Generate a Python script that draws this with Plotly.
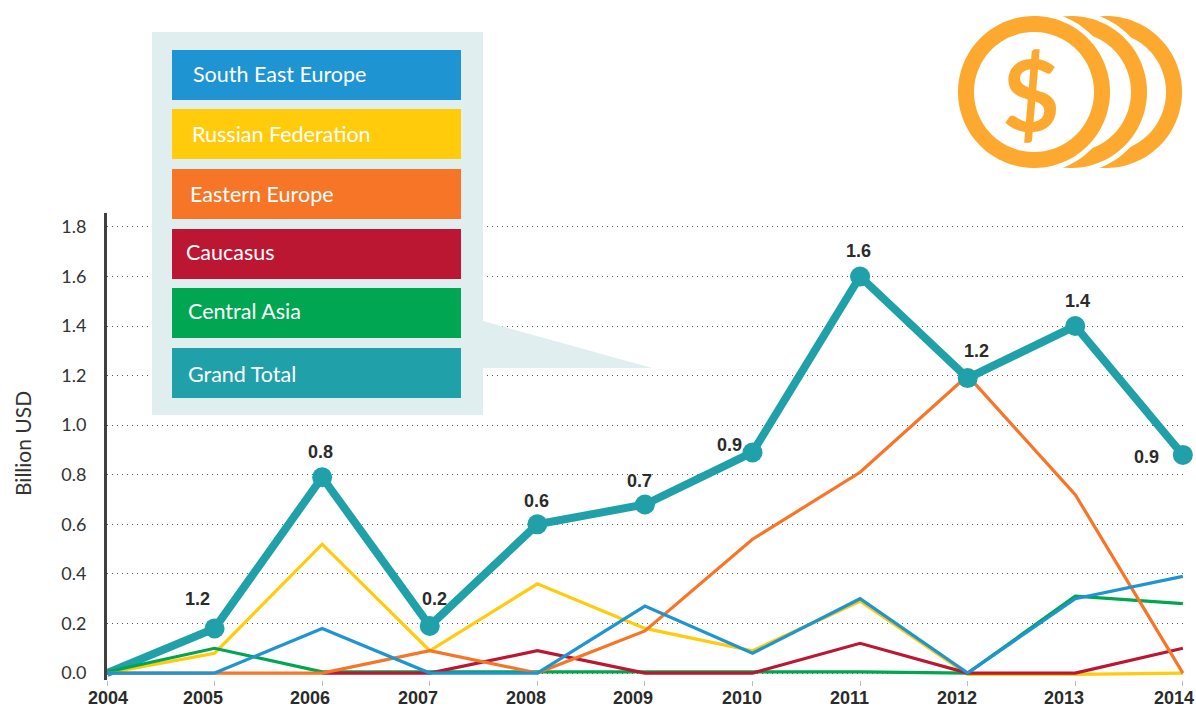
import math
import plotly.graph_objects as go

W, H = 1196, 709
years = list(range(2004, 2015))
year_labels = [str(y) for y in years]
year_label_shift = [1, -12, -12, -12, -11, -12, -11, -11, -11, -11, -9]
grand_total = [0, 0.18, 0.79, 0.19, 0.60, 0.68, 0.89, 1.60, 1.19, 1.40, 0.88]
russian_federation = [0, 0.08, 0.52, 0.09, 0.36, 0.18, 0.09, 0.29, -0.005, -0.005, 0]
south_east_europe = [0, 0, 0.18, 0, 0, 0.27, 0.08, 0.30, 0, 0.30, 0.39]
eastern_europe = [0, 0, 0, 0.09, 0, 0.17, 0.54, 0.81, 1.20, 0.72, 0]
caucasus = [None, None, 0, 0, 0.09, 0, 0, 0.12, 0, 0, 0.10]
central_asia = [0.005, 0.10, 0.005, 0.005, 0.005, 0.005, 0.005, 0.005, 0, 0.31, 0.28]
point_labels = ["1.2", "0.8", "0.2", "0.6", "0.7", "0.9", "1.6", "1.2", "1.4", "0.9"]
label_shift_x = [-17, -2, 5, -1, -5, -23, -2, 9, 2, -36]
label_shift_y = [29, 25, 27, 23, 24, 7, 25, 27, 25, -2]
legend_names = ["South East Europe", "Russian Federation", "Eastern Europe", "Caucasus", "Central Asia", "Grand Total"]
legend_colors = ["#1E94D2", "#FFCB0B", "#F77526", "#BB1733", "#00A651", "#20A0A8"]
legend_tops = [50, 109, 169, 229, 288, 348]
legend_text_x = [191, 190, 188, 184, 186, 186]
legend_text_dy = [-1, 0, 0, -2, -2, 1]
y_ticks = [0, 0.2, 0.4, 0.6, 0.8, 1.0, 1.2, 1.4, 1.6, 1.8]

L, R, T, B = 107, 1185, 213, 680
px = lambda x: (x - L) / (R - L)
py = lambda y: (B - y) / (B - T)

fig = go.Figure()
fig.add_trace(go.Scatter(x=years, y=grand_total, mode="lines", line=dict(color="#20A0A8", width=8), cliponaxis=False, showlegend=False))
for vals, col in [(russian_federation, "#FFCB0B"), (central_asia, "#00A651"), (caucasus, "#BB1733"),
                  (eastern_europe, "#F77526"), (south_east_europe, "#1E94D2")]:
    fig.add_trace(go.Scatter(x=years, y=vals, mode="lines", line=dict(color=col, width=3.2), cliponaxis=False, showlegend=False))
fig.add_trace(go.Scatter(x=years[1:], y=grand_total[1:], mode="markers", marker=dict(color="#20A0A8", size=20), cliponaxis=False, showlegend=False))

shapes = []
def rect(x0, y0, x1, y1, color):
    shapes.append(dict(type="rect", xref="paper", yref="paper", x0=px(x0), x1=px(x1), y0=py(y0), y1=py(y1),
                       fillcolor=color, line=dict(width=0), layer="above"))
def disk(cx, cy, r, color):
    pts = " ".join(f"L {px(cx + r*math.cos(a*0.05))} {py(cy + r*math.sin(a*0.05))}" for a in range(1, 126))
    shapes.append(dict(type="path", xref="paper", yref="paper", layer="above", fillcolor=color, line=dict(width=0),
                       path=f"M {px(cx+r)} {py(cy)} {pts} Z"))

# coin icon
coin = "#FDA92F"
for c, front in ((1106, 1071), (1071, 1034)):
    disk(c, 92, 76, coin); disk(c, 92, 60, "white"); disk(front, 92, 81, "white")
disk(1034, 92, 76, coin); disk(1034, 92, 60, "white")

# legend panel
panel = "#E0EEEF"
rect(152, 32, 483, 415, panel)
shapes.append(dict(type="path", xref="paper", yref="paper", layer="above", fillcolor=panel, line=dict(width=0),
                   path=f"M {px(483)} {py(321)} L {px(652)} {py(368)} L {px(483)} {py(368)} Z"))
for top, col in zip(legend_tops, legend_colors):
    rect(172, top, 461, top + 50, col)

ann = []
for name, top, tx, dy in zip(legend_names, legend_tops, legend_text_x, legend_text_dy):
    ann.append(dict(xref="paper", yref="paper", x=px(tx), y=py(top + 25 + dy), text=name, showarrow=False, xanchor="left", yanchor="middle",
                    font=dict(family="Lato", size=21.5, color="white")))
for yr, v, t, dx, dy in zip(years[1:], grand_total[1:], point_labels, label_shift_x, label_shift_y):
    ann.append(dict(x=yr, y=v, text=t, showarrow=False, xshift=dx, yshift=dy, xanchor="center", yanchor="middle",
                    font=dict(family="Liberation Sans", size=18, color="#2B2B2B", weight="bold")))
for yr, t, dx in zip(years, year_labels, year_label_shift):
    ann.append(dict(x=yr, xref="x", yref="paper", y=py(698), text=t, showarrow=False, xshift=dx, xanchor="center", yanchor="middle",
                    borderpad=0, font=dict(family="Liberation Sans", size=18, color="#2B2B2B", weight="bold")))
ann.append(dict(xref="paper", yref="paper", x=px(1031), y=py(92), text="$", showarrow=False, xanchor="center", yanchor="middle",
                font=dict(family="Lato", size=100, color=coin, weight="bold")))
ann.append(dict(xref="paper", yref="paper", x=px(22), y=py(444), text="Billion USD", showarrow=False, textangle=-90,
                xanchor="center", yanchor="middle", font=dict(family="Lato", size=21, color="#333333")))

fig.update_layout(
    width=W, height=H, autosize=False, margin=dict(l=L, r=W - R, t=T, b=H - B, autoexpand=False),
    paper_bgcolor="white", plot_bgcolor="white", showlegend=False, shapes=shapes, annotations=ann,
    xaxis=dict(range=[2004, 2014.02], tickvals=years, showticklabels=False, ticks="outside", ticklen=5, tickwidth=1, tickcolor="#BBBBBB",
               showgrid=False, zeroline=False, showline=False, automargin=False),
    yaxis=dict(range=[-0.028, 1.856], tickvals=y_ticks, tickformat=".1f", ticks="", showline=True, linecolor="#404040", linewidth=3,
               showgrid=True, gridcolor="#555555", griddash="1px,4px", gridwidth=1, zeroline=False, automargin=False, ticklabelstandoff=14,
               tickfont=dict(family="Lato", size=18, color="#333333")),
)
fig.write_html("out.html", config=dict(displayModeBar=False),
               post_script="document.body.style.margin='0';document.body.style.overflow='hidden';")
